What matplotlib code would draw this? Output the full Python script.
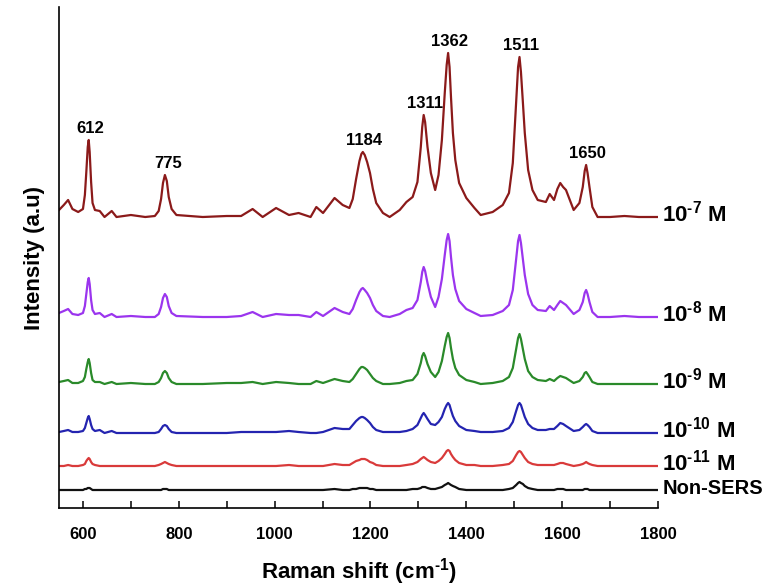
import matplotlib
matplotlib.use('Agg')
import matplotlib.pyplot as plt
from matplotlib.ticker import MultipleLocator

plt.rcParams['font.family'] = ['Liberation Sans', 'DejaVu Sans']
plt.rcParams['font.weight'] = 'bold'
plt.rcParams['mathtext.fontset'] = 'custom'
plt.rcParams['mathtext.rm'] = 'Liberation Sans:bold'
plt.rcParams['mathtext.bf'] = 'Liberation Sans:bold'

# Raman shift grid (cm-1)
shift = [550, 560, 569, 578, 590, 600, 604, 607, 610, 612,
         614, 617, 620, 625, 635, 645, 660, 670, 700, 730,
         750, 758, 763, 767, 771, 775, 779, 785, 795, 850,
         900, 930, 954, 975, 1003, 1030, 1050, 1075, 1087, 1101,
         1125, 1142, 1156, 1163, 1170, 1177, 1181, 1184, 1188, 1193,
         1199, 1205, 1212, 1226, 1240, 1261, 1275, 1288, 1298, 1305,
         1308, 1311, 1314, 1319, 1326, 1335, 1342, 1349, 1355, 1359,
         1362, 1365, 1368, 1372, 1377, 1385, 1400, 1417, 1430, 1455,
         1476, 1489, 1497, 1504, 1508, 1511, 1514, 1518, 1522, 1529,
         1538, 1549, 1566, 1574, 1583, 1590, 1596, 1602, 1608, 1624,
         1636, 1643, 1647, 1650, 1653, 1657, 1663, 1674, 1700, 1730,
         1760, 1800]

# intensities above each spectrum's own baseline (a.u.)
i_1e7 = [7, 12, 17, 8, 5, 8, 22, 45, 70, 77,
         65, 35, 14, 7, 6, 0, 6, 0, 2, 0,
         1, 6, 18, 34, 42, 36, 20, 8, 2, 0,
         1, 1, 8, 0, 9, 2, 4, 0, 10, 4,
         19, 12, 9, 18, 38, 56, 63, 65, 62, 55,
         44, 28, 14, 4, 0, 7, 15, 20, 35, 70,
         90, 102, 95, 70, 44, 27, 42, 77, 124, 152,
         164, 150, 120, 84, 57, 34, 19, 9, 2, 5,
         12, 24, 54, 115, 150, 160, 145, 115, 84, 47,
         27, 17, 15, 23, 17, 28, 34, 30, 27, 7,
         14, 30, 46, 52, 44, 30, 10, 0, 0, 1,
         0, 0]
i_1e8 = [4, 6, 8, 3, 2, 4, 11, 23, 35, 39,
         33, 17, 7, 3, 4, 0, 3, 0, 1, 0,
         0, 3, 10, 19, 23, 20, 11, 4, 1, 0,
         0, 1, 5, 0, 3, 2, 2, 0, 5, 1,
         9, 5, 3, 8, 17, 25, 28, 29, 27, 24,
         19, 12, 6, 1, 0, 3, 7, 9, 17, 35,
         45, 50, 46, 34, 20, 10, 20, 38, 62, 77,
         83, 76, 60, 42, 28, 16, 8, 4, 1, 2,
         6, 12, 27, 58, 76, 82, 74, 58, 42, 23,
         12, 7, 6, 11, 7, 12, 16, 14, 12, 3,
         7, 15, 24, 27, 23, 15, 5, 0, 0, 1,
         0, 0]
i_1e9 = [2, 3, 4, 1, 1, 3, 7, 15, 22, 25,
         21, 11, 4, 2, 2, 0, 2, 0, 1, 0,
         0, 2, 6, 11, 13, 11, 6, 2, 0, 0,
         1, 1, 2, 0, 2, 1, 0, 0, 3, 1,
         5, 3, 2, 5, 10, 15, 17, 17, 16, 14,
         10, 6, 3, 0, 0, 1, 3, 4, 10, 21,
         28, 31, 28, 20, 12, 7, 12, 23, 38, 47,
         51, 46, 36, 25, 16, 9, 4, 2, 0, 1,
         3, 7, 16, 35, 46, 50, 45, 35, 25, 13,
         7, 4, 3, 5, 3, 6, 8, 7, 6, 1,
         3, 7, 11, 12, 10, 7, 2, 0, 0, 0,
         0, 0]
i_1e10 = [1, 2, 3, 1, 1, 2, 5, 10, 15, 17,
          14, 8, 4, 2, 3, 0, 2, 0, 0, 0,
          0, 1, 4, 7, 8, 7, 4, 1, 0, 0,
          0, 1, 1, 1, 1, 2, 1, 0, 0, 1,
          5, 4, 4, 8, 12, 15, 16, 16, 15, 13,
          10, 6, 3, 1, 1, 1, 2, 4, 8, 15,
          18, 20, 18, 14, 9, 8, 11, 16, 24, 28,
          30, 28, 23, 17, 12, 7, 3, 2, 1, 1,
          2, 5, 11, 22, 28, 30, 28, 22, 16, 9,
          5, 3, 3, 4, 4, 7, 10, 9, 7, 2,
          3, 6, 8, 9, 8, 6, 2, 0, 0, 0,
          0, 0]
i_1e11 = [0, 0, 1, 0, 0, 1, 2, 5, 7, 8,
          7, 4, 2, 1, 0, 0, 0, 0, 0, 0,
          0, 1, 2, 3, 4, 3, 2, 1, 0, 0,
          0, 0, 0, 0, 0, 1, 0, 0, 0, 0,
          2, 1, 1, 3, 5, 6, 7, 7, 7, 6,
          4, 3, 1, 0, 0, 0, 1, 2, 4, 7,
          8, 9, 8, 6, 4, 3, 5, 8, 12, 15,
          16, 15, 12, 9, 6, 3, 1, 1, 0, 0,
          1, 2, 5, 11, 14, 15, 14, 11, 8, 4,
          2, 1, 1, 1, 1, 2, 3, 3, 2, 0,
          1, 2, 3, 4, 3, 2, 1, 0, 0, 0,
          0, 0]
i_nonsers = [0, 0, 0, 0, 0, 0, 1, 1, 2, 2,
             2, 1, 0, 0, 0, 0, 0, 0, 0, 0,
             0, 0, 0, 1, 1, 1, 0, 0, 0, 0,
             0, 0, 0, 0, 0, 0, 0, 0, 0, 0,
             1, 0, 0, 1, 1, 2, 2, 2, 2, 2,
             1, 1, 0, 0, 0, 0, 0, 1, 1, 2,
             3, 3, 3, 2, 1, 1, 2, 3, 5, 6,
             7, 6, 5, 4, 3, 1, 0, 0, 0, 0,
             0, 1, 2, 5, 7, 8, 7, 6, 4, 2,
             1, 0, 0, 0, 0, 1, 1, 1, 0, 0,
             0, 0, 1, 1, 1, 0, 0, 0, 0, 0,
             0, 0]

labels = ['10$^{\\text{-}7}$ M', '10$^{\\text{-}8}$ M', '10$^{\\text{-}9}$ M',
          '10$^{\\text{-}10}$ M', '10$^{\\text{-}11}$ M', 'Non-SERS']
spectra = [i_1e7, i_1e8, i_1e9, i_1e10, i_1e11, i_nonsers]
peak_marks = [612, 775, 1184, 1311, 1362, 1511, 1650]

# stacking offsets and colours
offsets = [291, 191, 124, 75, 42, 18]
colors = ['#8b1a1a', '#9b35ee', '#2a8a2a', '#2424b0', '#d93a3a', '#111111']

fig = plt.figure(figsize=(7.7, 5.86), dpi=100)
ax = fig.add_axes([59 / 770, 78 / 586, 599 / 770, 501 / 586])

for y, off, col, lab in zip(spectra, offsets, colors, labels):
    ax.plot(shift, [v + off for v in y], color=col, lw=1.6, solid_joinstyle='round')
    fs = 14.5 if lab == 'Non-SERS' else 16
    ax.annotate(lab, xy=(shift[-1], off), xytext=(3, -3), textcoords='offset points',
                ha='left', va='baseline', fontsize=fs, fontweight='bold',
                annotation_clip=False)

# peak labels above the top spectrum
for p in peak_marks:
    top = max(v for s, v in zip(shift, i_1e7) if abs(s - p) <= 8)
    ax.annotate(str(p), xy=(p, top + offsets[0]), xytext=(1, 3),
                textcoords='offset points', ha='center', va='bottom',
                fontsize=12, fontweight='bold')

ax.set_xlim(550, 1800)
ax.set_ylim(0, 501)
ax.xaxis.set_major_locator(MultipleLocator(200))
ax.xaxis.set_minor_locator(MultipleLocator(100))
ax.tick_params(axis='x', which='both', direction='in', length=5, width=1.1,
               labelsize=12, pad=14)
ax.set_yticks([])
for s in ['top', 'right']:
    ax.spines[s].set_visible(False)
for s in ['left', 'bottom']:
    ax.spines[s].set_linewidth(1.2)

ax.set_xlabel('Raman shift (cm$^{\\text{-}1}$)', fontsize=16, fontweight='bold', labelpad=10)
ax.set_ylabel('Intensity (a.u)', fontsize=16, fontweight='bold', labelpad=10)

fig.savefig('out.png', dpi=100)
